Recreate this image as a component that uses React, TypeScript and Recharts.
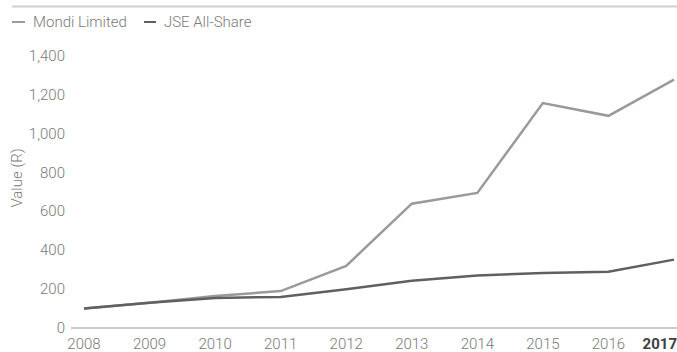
import React from 'react';
import { LineChart, Line, XAxis, YAxis, Legend, Customized } from 'recharts';

const years = ['2008', '2009', '2010', '2011', '2012', '2013', '2014', '2015', '2016', '2017'];
const mondi = [100, 130, 165, 190, 320, 640, 695, 1158, 1092, 1278];
const jse = [100, 130, 155, 160, 200, 243, 270, 283, 290, 352];
const yTicks = [0, 200, 400, 600, 800, 1000, 1200, 1400];
const yLabel = 'Value (R)';

const data = years.map((y, i) => ({ year: y, mondi: mondi[i], jse: jse[i] }));

const FONT = 'Roboto, "Liberation Sans", sans-serif';
const MONDI_COLOR = '#9a9a9a';
const JSE_COLOR = '#606060';
const TEXT_COLOR = '#7a7a7a';

const XTick = (props: any) => {
  const { x, y, payload, index } = props;
  const last = index === years.length - 1;
  return (
    <text
      x={last ? 677 : x}
      y={y}
      dy={13}
      textAnchor={last ? 'end' : 'middle'}
      fill={last ? '#404040' : TEXT_COLOR}
      fontWeight={last ? 700 : 300}
      fontSize={15}
      fontFamily={FONT}
    >
      {payload.value}
    </text>
  );
};

const YTick = (props: any) => {
  const { x, y, payload } = props;
  return (
    <text x={x} y={y} dy={5} textAnchor="end" fill={TEXT_COLOR} fontSize={15} fontWeight={300} fontFamily={FONT}>
      {Number(payload.value).toLocaleString('en-US')}
    </text>
  );
};

const LegendContent = () => (
  <div style={{ display: 'flex', alignItems: 'center', height: 18, fontFamily: FONT, fontSize: 15, fontWeight: 300, color: TEXT_COLOR, whiteSpace: 'nowrap' }}>
    <span style={{ display: 'inline-block', width: 13, height: 2.5, background: MONDI_COLOR, marginRight: 8 }} />
    <span style={{ marginRight: 17 }}>Mondi Limited</span>
    <span style={{ display: 'inline-block', width: 12, height: 2.5, background: JSE_COLOR, marginRight: 8 }} />
    <span>JSE All-Share</span>
  </div>
);

const TopRule = () => <line x1={12} x2={677} y1={6.5} y2={6.5} stroke="#cfcfcf" strokeWidth={2} />;

const YLabel = () => (
  <text
    x={0}
    y={0}
    transform="translate(22 178) rotate(-90)"
    textAnchor="middle"
    fill={TEXT_COLOR}
    fontSize={15}
    fontWeight={300}
    fontFamily={FONT}
  >
    {yLabel}
  </text>
);

export default function App() {
  return (
    <div style={{ position: 'absolute', left: 0, top: 0, width: 677, height: 352 }}>
      <LineChart width={677} height={352} data={data} margin={{ top: 38, right: 0, bottom: 0, left: 0 }}>
        <Customized component={TopRule} />
        <Customized component={YLabel} />
        <XAxis
          dataKey="year"
          tick={<XTick />}
          tickLine={false}
          axisLine={{ stroke: '#b8b8b8', strokeWidth: 1.5 }}
          padding={{ left: 13, right: 3 }}
          height={24}
          interval={0}
        />
        <YAxis
          domain={[0, 1400]}
          ticks={yTicks}
          tick={<YTick />}
          tickLine={false}
          axisLine={false}
          tickSize={0}
          tickMargin={6}
          width={71}
          interval={0}
        />
        <Legend
          verticalAlign="top"
          align="left"
          content={<LegendContent />}
          wrapperStyle={{ top: 13, left: 12, width: 'auto' }}
        />
        <Line type="linear" dataKey="mondi" stroke={MONDI_COLOR} strokeWidth={2.5} dot={false} isAnimationActive={false} />
        <Line type="linear" dataKey="jse" stroke={JSE_COLOR} strokeWidth={2.5} dot={false} isAnimationActive={false} />
      </LineChart>
    </div>
  );
}
